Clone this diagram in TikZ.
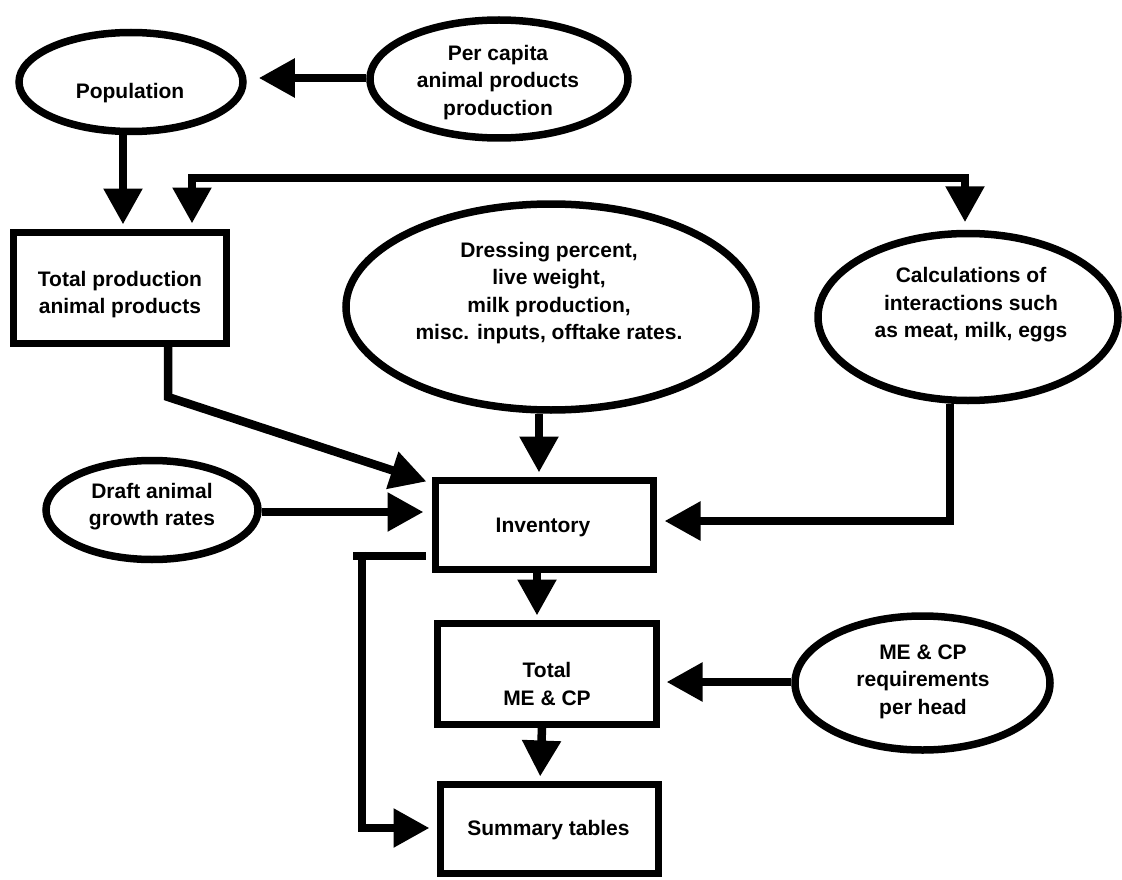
\documentclass[tikz,border=0pt]{standalone}
\usepackage{fontspec}
\setmainfont{Liberation Sans}
\usetikzlibrary{arrows.meta,shapes.geometric}
\begin{document}
\begin{tikzpicture}[x=1pt,y=-1pt,
  oval/.style={ellipse, draw, line width=7.5pt, inner sep=0pt},
  rbox/.style={rectangle, draw, line width=7pt, inner sep=0pt},
  txt/.style={font=\bfseries\fontsize{21}{27.5}\selectfont, align=center, inner sep=0pt},
  conn/.style={line width=8.5pt},
  arr/.style={conn, -{Triangle[length=36pt,width=37pt]}},
  arrb/.style={conn, {Triangle[length=36pt,width=37pt]}-{Triangle[length=36pt,width=37pt]}}]
\useasboundingbox (0,0) rectangle (1122,880);

% shapes
\node[oval, minimum width=224pt, minimum height=99pt] (pop) at (131,82) {};
\node[oval, minimum width=258pt, minimum height=118pt] (percap) at (499,79) {};
\node[rbox, minimum width=213pt, minimum height=111pt] (tot) at (120,288) {};
\node[oval, minimum width=410pt, minimum height=206pt] (dress) at (551,307) {};
\node[oval, minimum width=300pt, minimum height=167pt] (calc) at (968,317) {};
\node[oval, minimum width=212pt, minimum height=99pt] (draft) at (152,510) {};
\node[rbox, minimum width=218pt, minimum height=89pt] (inv) at (544.5,525) {};
\node[rbox, minimum width=219pt, minimum height=101pt] (me) at (547,674) {};
\node[rbox, minimum width=218pt, minimum height=89pt] (sum) at (549.5,829) {};
\node[oval, minimum width=255pt, minimum height=134pt] (req) at (922.5,683) {};

% texts
\node[txt] (popT) at (130,93) {Population};
\node[txt] (percapT) at (498,82.5) {Per capita\\animal products\\production};
\node[txt] (totT) at (120,294.5) {Total production\\animal products};
\node[txt] (dressT) at (549,293) {Dressing percent,\\live weight,\\milk production,\\misc. inputs, offtake rates.};
\node[txt] (calcT) at (971,305) {Calculations of\\interactions such\\as meat, milk, eggs};
\node[txt] (draftT) at (152,506.5) {Draft animal\\growth rates};
\node[txt] (invT) at (543,527) {Inventory};
\node[txt] (meT) at (547,684) {Total\\ME \& CP};
\node[txt] (sumT) at (548.5,830) {Summary tables};
\node[txt] (reqT) at (923,681.5) {ME \& CP\\requirements\\per head};

% helper coordinates
\coordinate (tl) at (192,178);
\coordinate (tr) at (965,178);
\coordinate (tb) at (168,397);
\coordinate (ct) at (950,521);
\coordinate (lt) at (362,556);
\coordinate (lb) at (362,828);

% connectors
\draw[arr, shorten >=12pt] ([yshift=1pt]percap.west) -- ([yshift=1pt]percap.west -| pop.east);
\draw[arr, shorten >=4.5pt] ([xshift=-8pt]pop.south) -- ([xshift=-8pt]pop.south |- tot.north);
\draw[arrb, shorten <=5.5pt, shorten >=7.5pt] (tl |- tot.north) -- (tl) -- (tr) -- (tr |- calc.north);
\draw[arr] (tb |- tot.south) -- (tb) -- ([xshift=-5.5pt,yshift=-4.5pt]inv.north west);
\draw[arr, shorten >=4.5pt] ([xshift=-12pt]dress.south) -- ([xshift=-12pt]dress.south |- inv.north);
\draw[arr, shorten >=8.5pt] ([yshift=-2pt]draft.east) -- ([yshift=-2pt]draft.east -| inv.west);
\draw[arr, shorten >=7.5pt] (ct |- calc.south) -- (ct) -- (ct -| inv.east);
\draw[conn, shorten <=6.5pt] (lt -| inv.west) -- ([xshift=-9pt]lt);
\draw[arr, shorten >=7.5pt] ([yshift=4.25pt]lt) -- (lb) -- (lb -| sum.west);
\draw[arr, shorten >=4.5pt] ([xshift=-7.5pt]inv.south) -- ([xshift=-7.5pt]inv.south |- me.north);
\draw[arr, shorten >=4.5pt] ([xshift=-5pt]me.south) -- ([xshift=-9.5pt]sum.north);
\draw[arr, shorten >=6.5pt] ([yshift=1pt]req.west) -- ([yshift=1pt]req.west -| me.east);
\end{tikzpicture}
\end{document}
